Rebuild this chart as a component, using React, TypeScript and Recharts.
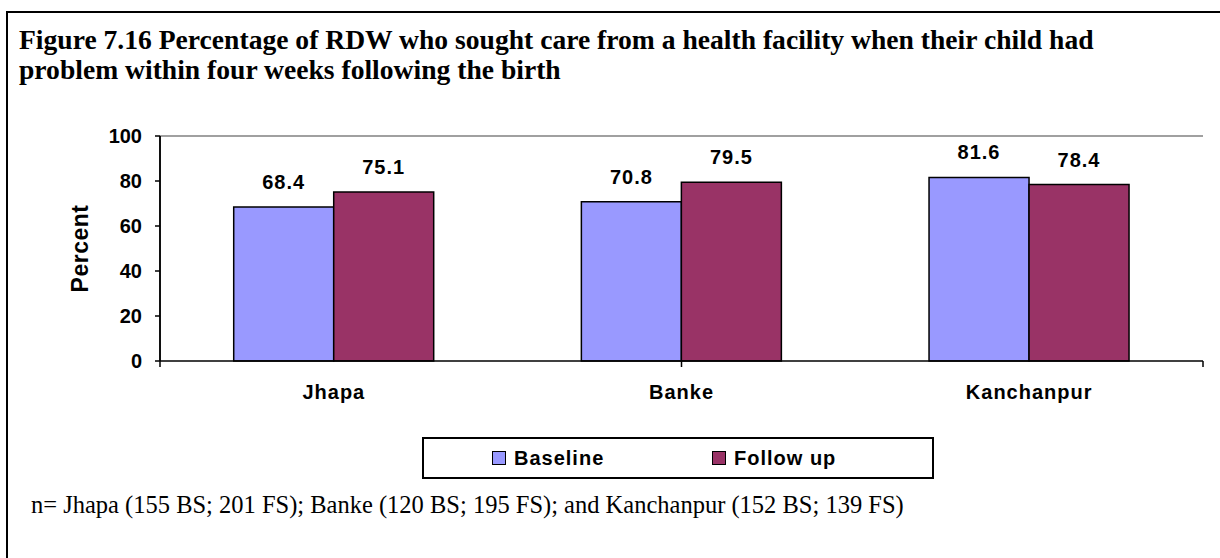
import { BarChart, Bar, XAxis, YAxis, LabelList, Legend, ReferenceLine } from 'recharts';

const DISTRICTS = ['Jhapa', 'Banke', 'Kanchanpur'];
const BASELINE = [68.4, 70.8, 81.6];
const FOLLOW_UP = [75.1, 79.5, 78.4];
const Y_TICKS = [0, 20, 40, 60, 80, 100];
const EDGE_TICKS = [0, 1, 2, 3];

const SERIES = [
    { dataKey: 'Baseline', fill: '#9999FF' },
    { dataKey: 'Follow up', fill: '#993366' },
];

const data = DISTRICTS.map((name, i) => ({
    name,
    Baseline: BASELINE[i],
    'Follow up': FOLLOW_UP[i],
}));

const SANS = 'Arial, "Liberation Sans", sans-serif';
const SERIF = '"Times New Roman", "Liberation Serif", serif';

const axisText = { fontFamily: SANS, fontWeight: 700, fill: '#000' };

// tick marks only, no labels, for the category boundaries
const NoLabel = () => <g />;

const LegendBox = ({ payload }: any) => (
    <div
        style={{
            boxSizing: 'border-box',
            width: 512,
            height: 42,
            border: '2px solid #000',
            background: '#fff',
            display: 'flex',
            alignItems: 'center',
            paddingLeft: 68,
            fontFamily: SANS,
            fontWeight: 700,
            fontSize: 20,
            letterSpacing: 1,
            color: '#000',
        }}
    >
        {(payload || []).map((entry: any) => (
            <div key={entry.value} style={{ width: 251, display: 'flex', alignItems: 'center' }}>
                <span
                    style={{
                        boxSizing: 'border-box',
                        width: 14,
                        height: 14,
                        border: '1px solid #000',
                        background: entry.color,
                        marginRight: 8,
                    }}
                />
                <span>{entry.value}</span>
            </div>
        ))}
    </div>
);

export default function App() {
    return (
        <div style={{ position: 'absolute', left: 0, top: 0, width: 1220, height: 558, overflow: 'hidden', background: '#fff' }}>
            <div
                style={{
                    position: 'absolute',
                    left: 6,
                    top: 11,
                    width: 1300,
                    height: 700,
                    border: '2px solid #000',
                }}
            />
            <div
                style={{
                    position: 'absolute',
                    left: 19,
                    top: 25,
                    fontFamily: SERIF,
                    fontWeight: 700,
                    fontSize: 27.6,
                    lineHeight: '30px',
                    color: '#000',
                    whiteSpace: 'nowrap',
                }}
            >
                <div>Figure 7.16 Percentage of RDW who sought care from a health facility when their child had</div>
                <div>problem within four weeks following the birth</div>
            </div>
            <div
                style={{
                    position: 'absolute',
                    left: 31,
                    top: 491,
                    fontFamily: SERIF,
                    fontSize: 24.5,
                    lineHeight: '28px',
                    color: '#000',
                    whiteSpace: 'nowrap',
                }}
            >
                n= Jhapa (155 BS; 201 FS); Banke (120 BS; 195 FS); and Kanchanpur (152 BS; 139 FS)
            </div>
            <div style={{ position: 'absolute', left: 0, top: 0 }}>
                <BarChart
                    width={1220}
                    height={558}
                    data={data}
                    margin={{ top: 136, right: 17, bottom: 139, left: 0 }}
                    barGap={0}
                    barCategoryGap="21.2%"
                >
                    <XAxis
                        xAxisId="a_edge"
                        type="number"
                        domain={[0, 3]}
                        ticks={EDGE_TICKS}
                        interval={0}
                        tick={<NoLabel />}
                        tickSize={6}
                        height={8}
                        axisLine={{ stroke: '#000', strokeWidth: 1.5 }}
                        tickLine={{ stroke: '#000', strokeWidth: 1.5 }}
                    />
                    <XAxis
                        xAxisId="b_cat"
                        dataKey="name"
                        height={50}
                        axisLine={false}
                        tickLine={false}
                        tickSize={0}
                        tickMargin={16}
                        interval={0}
                        tick={{ ...axisText, fontSize: 20, letterSpacing: 1 }}
                    />
                    <YAxis
                        domain={[0, 100]}
                        ticks={Y_TICKS}
                        interval={0}
                        width={160}
                        tickSize={5}
                        tickMargin={13}
                        axisLine={{ stroke: '#000', strokeWidth: 1.5 }}
                        tickLine={{ stroke: '#000', strokeWidth: 1.5 }}
                        tick={{ ...axisText, fontSize: 20 }}
                        label={{
                            value: 'Percent',
                            angle: -90,
                            position: 'center',
                            style: { ...axisText, fontSize: 23, letterSpacing: 0.5 },
                        }}
                    />
                    {/* plot frame: grey on top and right, black on left */}
                    <ReferenceLine xAxisId="a_edge" y={100} stroke="#808080" strokeWidth={1.5} />
                    <ReferenceLine xAxisId="a_edge" x={3} stroke="#808080" strokeWidth={1.5} />
                    <ReferenceLine xAxisId="a_edge" x={0} stroke="#000" strokeWidth={1.5} />
                    {SERIES.map((s) => (
                        <Bar
                            key={s.dataKey}
                            xAxisId="b_cat"
                            dataKey={s.dataKey}
                            fill={s.fill}
                            stroke="#000"
                            strokeWidth={1.5}
                            isAnimationActive={false}
                        >
                            <LabelList
                                dataKey={s.dataKey}
                                position="top"
                                offset={18}
                                style={{ ...axisText, fontSize: 20, letterSpacing: 1 }}
                            />
                        </Bar>
                    ))}
                    <Legend
                        layout="horizontal"
                        verticalAlign="middle"
                        align="center"
                        content={<LegendBox />}
                        wrapperStyle={{ left: 422, top: 437, width: 512, height: 42 }}
                    />
                </BarChart>
            </div>
        </div>
    );
}
